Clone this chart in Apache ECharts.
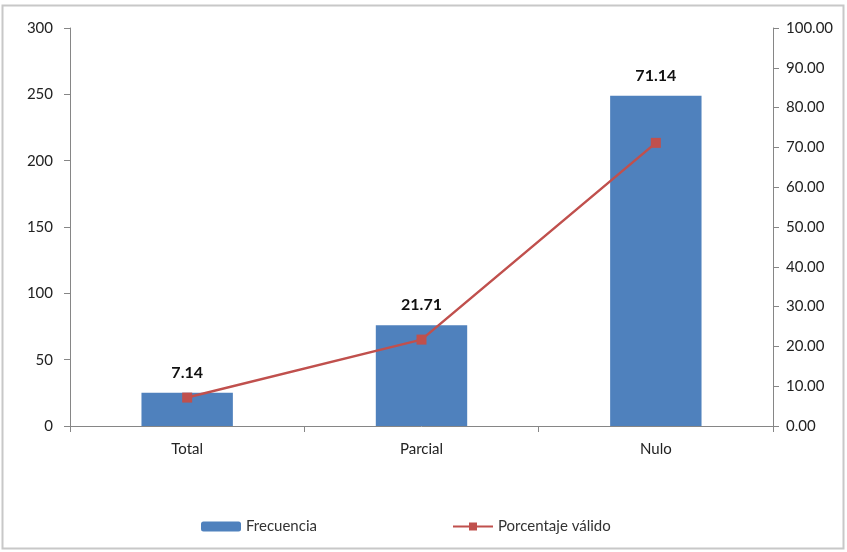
<!DOCTYPE html>
<html><head><meta charset="utf-8">
<script src="https://cdn.jsdelivr.net/npm/echarts@6/dist/echarts.min.js"></script>
<style>html,body{margin:0;padding:0;background:#fff}#c{width:847px;height:552px}</style>
</head><body><div id="c"></div>
<script>
const categories = ['Total', 'Parcial', 'Nulo'];
const frecuencia = [25, 76, 249];
const porcentaje = [7.14, 21.71, 71.14];
const leftTicks = [0, 300, 50];
const rightTicks = [0, 100, 10];

const font = 'Lato';
const chart = echarts.init(document.getElementById('c'));
chart.setOption({
  animation: false,
  backgroundColor: '#fff',
  textStyle: { fontFamily: font },
  graphic: [{ type: 'rect', shape: { x: 2.5, y: 5.5, width: 841, height: 543 }, style: { fill: 'none', stroke: '#c8c8c8', lineWidth: 2 }, silent: true }],
  grid: { left: 70, right: 74, top: 28, bottom: 126 },
  legend: [
    { data: ['Frecuencia'], left: 196, top: 514, itemWidth: 40, itemHeight: 10, itemGap: 5,
      textStyle: { fontFamily: font, fontSize: 15, color: '#333' } },
    { data: ['Porcentaje válido'], left: 447, top: 514, itemWidth: 40, itemHeight: 10,
      textStyle: { fontFamily: font, fontSize: 15, color: '#333' } }
  ],
  xAxis: {
    type: 'category', data: categories,
    axisLine: { lineStyle: { color: '#868686', width: 1 } },
    axisTick: { show: true, alignWithLabel: false, length: 6, lineStyle: { color: '#868686' } },
    axisLabel: { fontSize: 15, color: '#222', margin: 16 }
  },
  yAxis: [
    { type: 'value', min: leftTicks[0], max: leftTicks[1], interval: leftTicks[2],
      axisLine: { show: true, lineStyle: { color: '#868686' } },
      axisTick: { show: true, length: 6, lineStyle: { color: '#868686' } },
      splitLine: { show: false },
      axisLabel: { fontSize: 15, color: '#222', margin: 17 } },
    { type: 'value', min: rightTicks[0], max: rightTicks[1], interval: rightTicks[2], position: 'right',
      axisLine: { show: true, lineStyle: { color: '#868686' } },
      axisTick: { show: true, length: 6, lineStyle: { color: '#868686' } },
      splitLine: { show: false },
      axisLabel: { fontSize: 15, color: '#222', margin: 13, formatter: v => v.toFixed(2) } }
  ],
  series: [
    { name: 'Frecuencia', type: 'bar', data: frecuencia, barWidth: '39%',
      itemStyle: { color: '#4F81BD' },
      label: { show: true, position: 'top', distance: 12, fontSize: 16, fontWeight: 'bold', color: '#111',
        formatter: p => porcentaje[p.dataIndex].toFixed(2) } },
    { name: 'Porcentaje válido', type: 'line', yAxisIndex: 1, data: porcentaje,
      symbol: 'rect', symbolSize: 10,
      lineStyle: { color: '#C0504D', width: 2.5 },
      itemStyle: { color: '#C0504D' } }
  ]
});
</script></body></html>
